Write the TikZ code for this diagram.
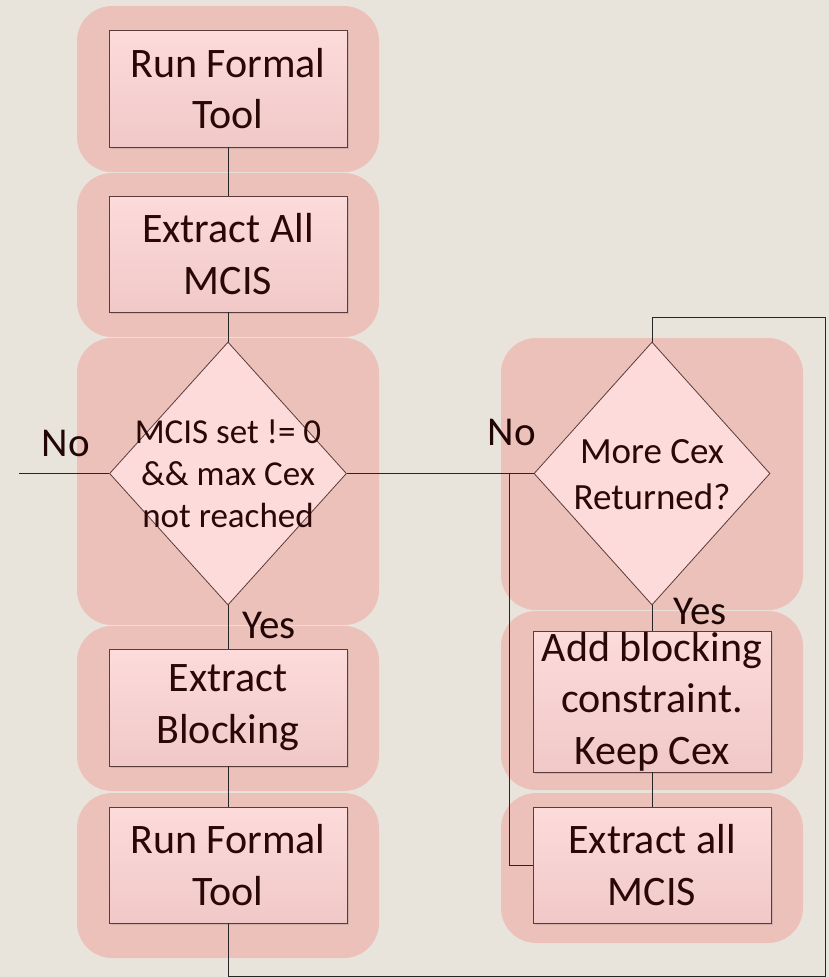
\documentclass[tikz,border=0pt]{standalone}
\usepackage{fontspec}
\setmainfont{Carlito}
\usetikzlibrary{shapes.geometric,shadows}

\definecolor{paper}{HTML}{E8E4DC}
\definecolor{blobpink}{HTML}{EBC1BA}
\definecolor{boxtop}{HTML}{FDDBDB}
\definecolor{boxbot}{HTML}{F1C8C8}
\definecolor{edge}{HTML}{5C3B3B}
\definecolor{ink}{HTML}{2A0808}

\begin{document}
\begin{tikzpicture}[x=1pt,y=-1pt,
  blob/.style={fill=blobpink, rounded corners=35pt},
  box/.style={draw=edge, line width=.8pt, top color=boxtop, bottom color=boxbot,
    minimum width=238pt, inner sep=0pt, text=ink, align=center,
    font=\fontsize{42}{51.5}\selectfont,
    drop shadow={shadow xshift=1.5pt, shadow yshift=-1.5pt, opacity=.25}},
  dec/.style={diamond, draw=edge, line width=.8pt, fill=boxtop, inner sep=0pt,
    minimum width=237pt, minimum height=263pt},
  dectext/.style={text=ink, align=center, inner sep=0pt},
  lbl/.style={anchor=base, inner sep=0pt, text=ink!80!black, font=\fontsize{41}{50}\selectfont},
  wire/.style={draw=black!85, line width=.9pt}]

\fill[paper] (0,0) rectangle (829,977);

% shaded groups behind each step
\path[blob] (77,6) rectangle (379,172);
\path[blob] (77,173) rectangle (379,337);
\path[blob] (77,338) rectangle (379,625);
\path[blob] (77,626) rectangle (379,791);
\path[blob] (77,793) rectangle (379,958);
\path[blob] (501,338) rectangle (803,610);
\path[blob] (501,611) rectangle (803,790);
\path[blob] (501,793) rectangle (803,943);

% left column
\node[box, minimum height=117pt] (run1) at (228,88.5) {Run Formal\\Tool};
\node[box, minimum height=116pt] (extA) at (228,254) {Extract All\\MCIS};
\node[dec] (chk) at (228,473.5) {};
\node[dectext, font=\fontsize{35}{42}\selectfont] (chkT) at (228,474) {MCIS set != 0\\\&\& max Cex\\not reached};
\node[box, minimum height=117pt] (blk) at (228,707.5) {Extract\\Blocking};
\node[box, minimum height=116pt] (run2) at (228,865) {Run Formal\\Tool};

% right column
\node[dec, minimum width=236pt] (more) at (652,473.5) {};
\node[dectext, font=\fontsize{37}{46}\selectfont] (moreT) at (652,475) {More Cex\\Returned?};
\node[box, minimum height=141pt] (addc) at (652,701.5) {Add blocking\\constraint.\\Keep Cex};
\node[box, minimum height=116pt] (extB) at (652,865) {Extract all\\MCIS};

\coordinate (exit) at (19,473.5);
\coordinate (noR) at (509,473.5);
\coordinate (loopB) at (825,976);
\coordinate (loopT) at (825,317);

\draw[wire] (run1) -- (extA);
\draw[wire] (extA) -- (chk);
\draw[wire] (chk) -- (blk);
\draw[wire] (blk) -- (run2);
\draw[wire] (chk.west) -- (exit);
\draw[wire] (chk.east) -- (more.west);
\draw[wire] (more) -- (addc);
\draw[wire] (addc) -- (extB);
\draw[wire] (noR) |- (extB.west);
\draw[wire] (run2.south) |- (loopB) -- (loopT) -| (more.north);

\node[lbl] (noL) at (66,456) {No};
\node[lbl] (noRt) at (512,445) {No};
\node[lbl] (yesL) at (269,638) {Yes};
\node[lbl] (yesR) at (700,624) {Yes};

\end{tikzpicture}
\end{document}
